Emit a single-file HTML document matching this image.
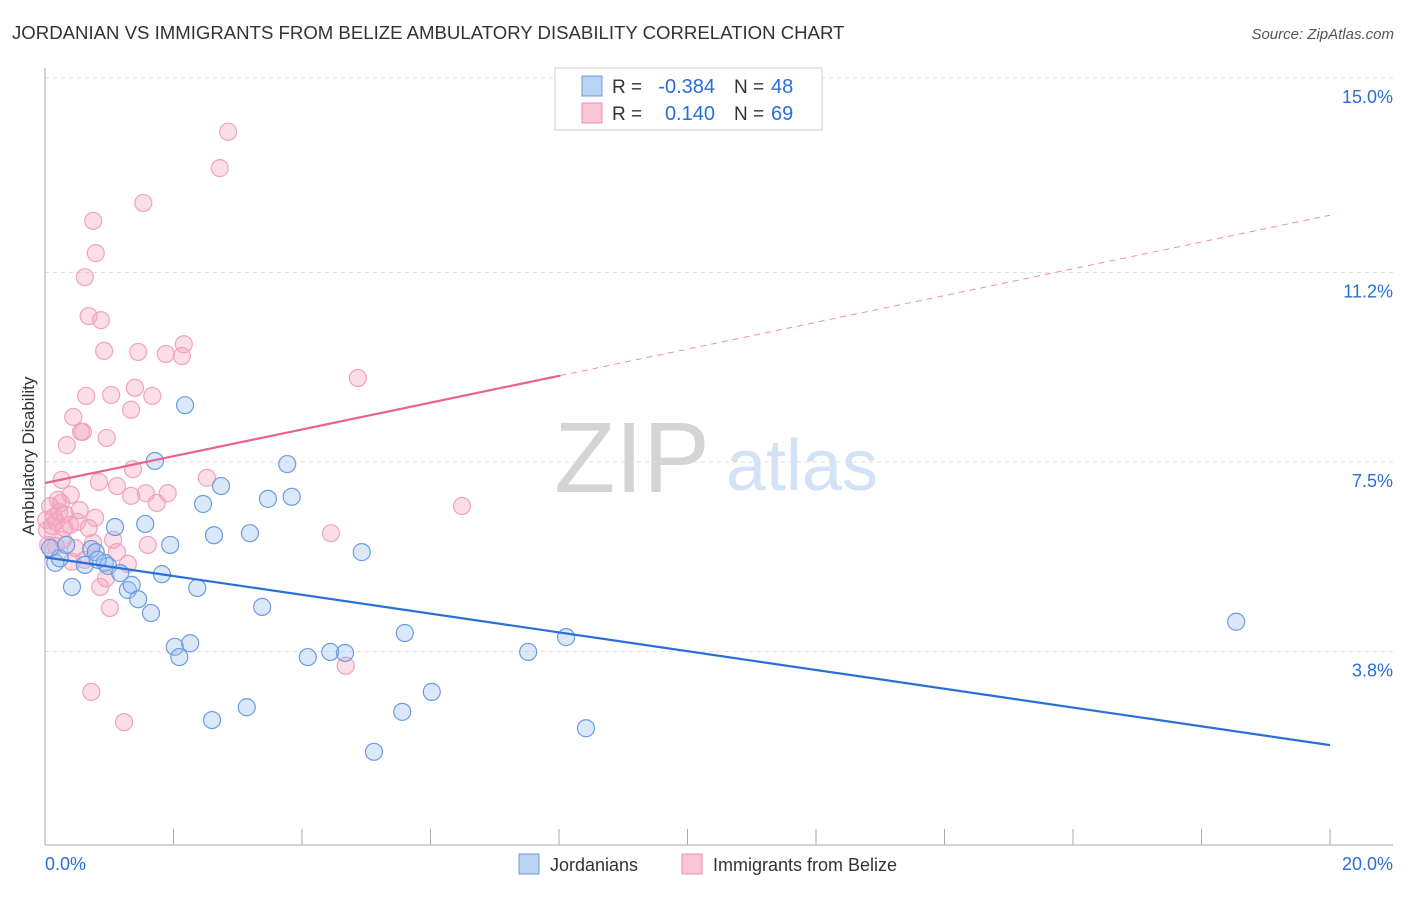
<!DOCTYPE html>
<html><head><meta charset="utf-8"><style>
body{margin:0;background:#fff;font-family:"Liberation Sans",sans-serif;}
svg text{font-family:"Liberation Sans",sans-serif;}
</style></head><body>
<svg id="chart" width="1406" height="892" xmlns="http://www.w3.org/2000/svg">
<text x="12" y="39" font-size="18.6" fill="#333">JORDANIAN VS IMMIGRANTS FROM BELIZE AMBULATORY DISABILITY CORRELATION CHART</text>
<text x="1394" y="39" font-size="15" fill="#555" text-anchor="end" font-style="italic">Source: ZipAtlas.com</text>
<text x="632" y="492" font-size="100" fill="#d4d4d4" font-family="Liberation Serif" text-anchor="middle">ZIP</text>
<text x="802" y="490" font-size="72" fill="#d3e2f5" text-anchor="middle">atlas</text>
<g id="grid"></g><g id="axes"></g><g id="pts"></g><g id="trends"></g>
<text transform="translate(34,456) rotate(-90)" font-size="17" fill="#333" text-anchor="middle">Ambulatory Disability</text>
<g>
<rect x="555" y="68" width="267" height="62" fill="#fff" stroke="#ccc"/>
<rect x="582" y="76" width="20" height="20" fill="#b9d3f3" stroke="#6d9be0"/>
<rect x="582" y="103" width="20" height="20" fill="#f9c6d6" stroke="#ec8fae"/>
<text x="612" y="93" font-size="19" fill="#333">R =</text>
<text x="715" y="93" font-size="20" fill="#2a6fd6" text-anchor="end">-0.384</text>
<text x="734" y="93" font-size="19" fill="#333">N =</text>
<text x="771" y="93" font-size="20" fill="#2a6fd6">48</text>
<text x="612" y="120" font-size="19" fill="#333">R =</text>
<text x="715" y="120" font-size="20" fill="#2a6fd6" text-anchor="end">0.140</text>
<text x="734" y="120" font-size="19" fill="#333">N =</text>
<text x="771" y="120" font-size="20" fill="#2a6fd6">69</text>
</g>
<g>
<rect x="519" y="854" width="20" height="20" fill="#b9d3f3" stroke="#6d9be0"/>
<text x="550" y="871" font-size="18" fill="#333">Jordanians</text>
<rect x="682" y="854" width="20" height="20" fill="#f9c6d6" stroke="#ec8fae"/>
<text x="713" y="871" font-size="18" fill="#333">Immigrants from Belize</text>
</g>
</svg>
<script>
const yTicks=[3.8,7.5,11.2,15.0];
const yTickLabels=["3.8%","7.5%","11.2%","15.0%"];
const xTickVals=[0,2,4,6,8,10,12,14,16,18,20];
const blueX=[0.16,0.23,0.42,0.33,0.62,0.72,0.79,0.93,0.98,1.09,1.17,1.29,1.35,1.45,1.56,1.65,1.71,1.82,1.95,2.02,2.09,2.18,2.26,2.37,2.46,2.60,2.63,2.74,3.14,3.19,3.38,3.47,3.77,3.84,4.09,4.44,4.67,4.93,5.12,5.56,5.60,6.02,7.52,8.11,8.42,18.54,0.08,0.82];
const blueY=[5.53,5.62,5.06,5.88,5.49,5.80,5.74,5.53,5.47,6.23,5.33,5.00,5.10,4.82,6.29,4.55,7.52,5.31,5.88,3.89,3.69,8.61,3.96,5.04,6.68,2.46,6.07,7.03,2.71,6.11,4.67,6.78,7.46,6.82,3.69,3.79,3.77,5.74,1.84,2.62,4.16,3.01,3.79,4.08,2.30,4.38,5.82,5.59];
const pinkX=[2.85,2.72,1.53,0.75,0.79,0.62,0.68,0.87,2.16,0.92,1.45,1.88,2.13,4.87,1.40,0.64,1.03,1.67,1.34,0.44,0.56,0.59,0.96,0.34,1.37,2.52,0.26,0.84,1.12,1.34,1.57,1.91,0.40,1.74,6.49,0.25,0.08,0.22,0.31,0.14,0.02,0.78,0.50,0.68,0.30,0.11,0.17,1.06,4.45,0.28,0.75,0.05,0.17,0.47,1.12,1.60,0.42,1.29,0.95,0.86,1.01,4.68,0.72,1.23,0.03,0.39,0.54,0.20,0.62];
const pinkY=[13.95,13.24,12.56,12.21,11.58,11.11,10.35,10.27,9.80,9.67,9.65,9.61,9.57,9.14,8.95,8.79,8.81,8.79,8.52,8.38,8.09,8.09,7.97,7.83,7.36,7.19,7.15,7.11,7.03,6.84,6.89,6.89,6.86,6.70,6.64,6.70,6.64,6.52,6.48,6.43,6.37,6.41,6.33,6.21,6.21,6.25,6.33,5.98,6.11,5.98,5.92,5.88,5.86,5.82,5.74,5.88,5.55,5.51,5.23,5.06,4.65,3.52,3.01,2.42,6.17,6.27,6.56,6.76,5.59];
const blueTrend=[5.64,1.97];
const pinkTrend=[7.09,12.32];
const pinkSolidEnd=8.02;
const sx=v=>45+v*64.25, sy=v=>846-v*51.2;
const NS="http://www.w3.org/2000/svg";
function mk(parent,tag,attrs){const e=document.createElementNS(NS,tag);for(const k in attrs)e.setAttribute(k,attrs[k]);document.getElementById(parent).appendChild(e);return e;}
yTicks.forEach((t,i)=>{
 const l=mk('grid','line',{x1:45,x2:1393,y1:sy(t),y2:sy(t),stroke:'#ddd','stroke-dasharray':'4,4'});
 
 
 const tx=mk('grid','text',{x:1393,y:sy(t)+25,'font-size':18,fill:'#2a6fd6','text-anchor':'end'});
 tx.textContent=yTickLabels[i];
 
 
});
let a=mk('axes','line',{x1:45,x2:45,y1:68,y2:845,stroke:'#aaa'});


a=mk('axes','line',{x1:45,x2:1393,y1:845,y2:845,stroke:'#aaa'});


xTickVals.forEach(v=>{
 const t=mk('axes','line',{x1:sx(v),x2:sx(v),y1:829,y2:845,stroke:'#aaa'});
 
 
});
let xl=mk('axes','text',{x:45,y:870,'font-size':18,fill:'#2a6fd6'});xl.textContent='0.0%';


xl=mk('axes','text',{x:1393,y:870,'font-size':18,fill:'#2a6fd6','text-anchor':'end'});xl.textContent='20.0%';


pinkX.forEach((x,i)=>{
 const c=mk('pts','circle',{cx:sx(x),cy:sy(pinkY[i]),r:8.5,fill:'rgba(244,160,187,0.35)',stroke:'#f0a3bc','stroke-width':1.2});
 
 
});
blueX.forEach((x,i)=>{
 const c=mk('pts','circle',{cx:sx(x),cy:sy(blueY[i]),r:8.5,fill:'rgba(150,190,240,0.35)',stroke:'#6d9be0','stroke-width':1.2});
 
 
});
let tl=mk('trends','line',{x1:sx(0),y1:sy(blueTrend[0]),x2:sx(20),y2:sy(blueTrend[1]),stroke:'#2a6fd6','stroke-width':2.2});


const pAt=x=>pinkTrend[0]+(pinkTrend[1]-pinkTrend[0])*x/20;
tl=mk('trends','line',{x1:sx(0),y1:sy(pAt(0)),x2:sx(pinkSolidEnd),y2:sy(pAt(pinkSolidEnd)),stroke:'#e8638f','stroke-width':2.2});


tl=mk('trends','line',{x1:sx(pinkSolidEnd),y1:sy(pAt(pinkSolidEnd)),x2:sx(20),y2:sy(pAt(20)),stroke:'#ec8fae','stroke-width':1,'stroke-dasharray':'6,5'});


</script>
</body></html>
